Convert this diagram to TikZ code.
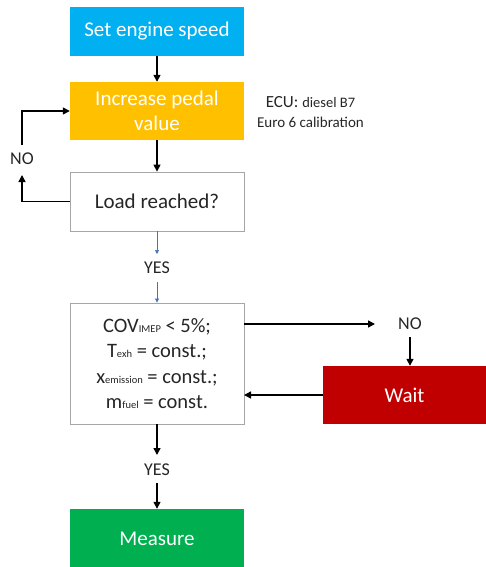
\documentclass[tikz,border=0pt]{standalone}
\usepackage{fontspec}
\setmainfont{Carlito}
\usetikzlibrary{arrows.meta}
\definecolor{cblue}{HTML}{00B0F0}
\definecolor{corange}{HTML}{FFC000}
\definecolor{cred}{HTML}{C00000}
\definecolor{cgreen}{HTML}{00B050}
\definecolor{cline}{HTML}{4472C4}
\definecolor{cgray}{HTML}{A6A6A6}
\tikzset{
  boxbase/.style={rectangle, inner sep=0pt, align=center, font=\fontsize{21}{25}\selectfont},
  whitebox/.style={boxbase, draw=cgray, line width=0.8pt, fill=white, text=black!85},
  colbox/.style={boxbase, text=white},
  arr/.style={line width=1.4pt, -{Triangle[length=7pt,width=7pt]}},
  blarr/.style={line width=0.6pt, cline, -{Triangle[length=4pt,width=4pt]}},
  lbl/.style={font=\fontsize{18}{20}\selectfont, text=black!85, inner sep=1pt},
}
\newcommand{\smallsub}[1]{{\fontsize{10.5}{10}\selectfont #1}}
\begin{document}
\begin{tikzpicture}[x=1pt,y=-1pt]
\useasboundingbox (0,0) rectangle (486,567);
% boxes
\node[colbox, fill=cblue, minimum width=174pt, minimum height=49pt] (set) at (157,31.5) {Set engine speed};
\node[colbox, fill=corange, minimum width=174pt, minimum height=58pt] (inc) at (157,111) {Increase pedal\\value};
\node[whitebox, minimum width=174pt, minimum height=59pt] (load) at (157,201.5) {Load reached?};
\node[whitebox, minimum width=174pt, minimum height=121pt, font=\fontsize{20.5}{25.5}\selectfont] (cov) at (157,363.5)
  {COV\smallsub{IMEP} < 5\%;\\T\smallsub{exh} = const.;\\x\smallsub{emission} = const.;\\m\smallsub{fuel} = const.};
\node[colbox, fill=cred, minimum width=163pt, minimum height=58pt] (wait) at (404.5,395) {Wait};
\node[colbox, fill=cgreen, minimum width=174pt, minimum height=60pt] (meas) at (157,539) {Measure};
% labels
\node[lbl, align=center] (ecu) at (310.5,112) {\fontsize{17}{20}\selectfont ECU: {\fontsize{14.5}{20}\selectfont diesel B7}\\{\fontsize{15}{20}\selectfont Euro 6 calibration}};
\node[lbl] (no1) at (22,159) {NO};
\node[lbl] (yes1) at (157,268) {YES};
\node[lbl] (no2) at (410,324) {NO};
\node[lbl] (yes2) at (157,470) {YES};
% coordinates
\coordinate (c1) at (22,201.5);
\coordinate (c0) at (22,175);
\coordinate (c3) at (22,145);
\coordinate (c2) at (22,111);
\coordinate (covr) at (244,324);
\coordinate (noin) at (375,324);
\coordinate (covr2) at (244,395);
\coordinate (y1a) at (157,254);
\coordinate (y1b) at (157,282);
\coordinate (n2b) at (410,337);
\coordinate (y2a) at (157,455);
\coordinate (y2b) at (157,483);
% connectors
\draw[arr] (set.south) -- (inc.north);
\draw[arr] (inc.south) -- (load.north);
\draw[arr] (load.west) -- (c1) -- (c0);
\draw[arr] (c3) -- (c2) -- (inc.west);
\draw[blarr] (load.south) -- (y1a);
\draw[blarr] (y1b) -- (cov.north);
\draw[arr] (covr) -- (noin);
\draw[arr] (n2b) -- (n2b |- wait.north);
\draw[arr] (wait.west) -- (covr2);
\draw[arr] (cov.south) -- (y2a);
\draw[arr] (y2b) -- (meas.north);
\end{tikzpicture}
\end{document}
